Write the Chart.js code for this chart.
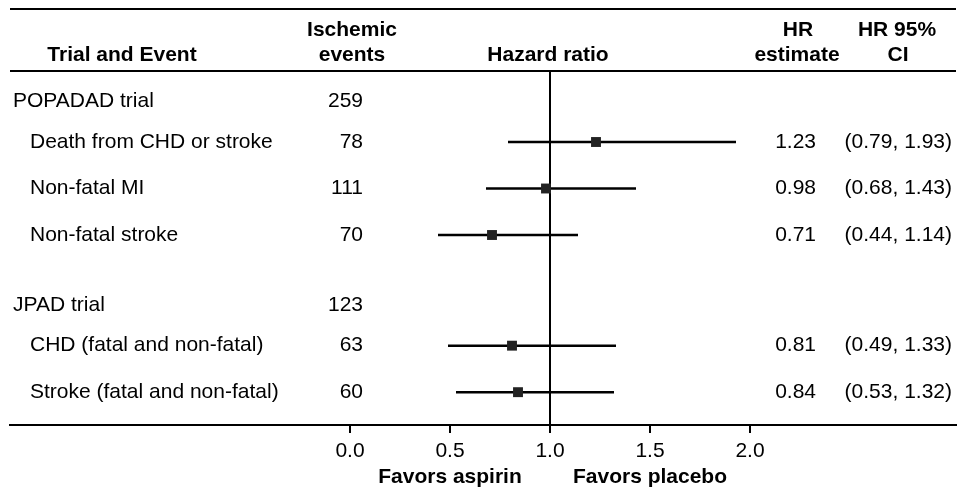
<!DOCTYPE html>
<html>
<head>
<meta charset="utf-8">
<script src="https://cdn.jsdelivr.net/npm/chart.js@4"></script>
<style>
  body { margin: 0; background: #fff; }
  #wrap { width: 958px; height: 492px; }
</style>
</head>
<body>
<div id="wrap"><canvas id="forest"></canvas></div>
<script>
const groupNames = ["POPADAD trial", "JPAD trial"];
const groupEvents = [259, 123];

const outcomes = [
  "Death from CHD or stroke",
  "Non-fatal MI",
  "Non-fatal stroke",
  "CHD (fatal and non-fatal)",
  "Stroke (fatal and non-fatal)"
];
const outcomeGroup = [0, 0, 0, 1, 1];
const outcomeEvents = [78, 111, 70, 63, 60];
const hr = [1.23, 0.98, 0.71, 0.81, 0.84];
const ciLow = [0.79, 0.68, 0.44, 0.49, 0.53];
const ciHigh = [1.93, 1.43, 1.14, 1.33, 1.32];

const xTicks = [0, 0.5, 1, 1.5, 2];

// row layout: one unit per outcome row, group title sits a bit less than a row above
const rowY = [];
const groupY = [];
let base = 1;
groupNames.forEach((g, gi) => {
  groupY.push(base - 0.87);
  let y = base;
  outcomes.forEach((o, i) => {
    if (outcomeGroup[i] === gi) { rowY[i] = y; y += 1; }
  });
  base = y - 1 + 2.38;
});

const FONT = "'Liberation Sans', Arial, Helvetica, sans-serif";

const ciSets = outcomes.map((o, i) => ({
  type: "line",
  data: [{ x: ciLow[i], y: rowY[i] }, { x: ciHigh[i], y: rowY[i] }],
  borderColor: "#000",
  borderWidth: 2.5,
  pointRadius: 0,
  order: 2
}));

const tablePlugin = {
  id: "tableText",
  beforeDatasetsDraw(chart) {
    const { ctx, chartArea, scales } = chart;
    const x1 = scales.x.getPixelForValue(1);
    ctx.save();
    ctx.strokeStyle = "#000";
    ctx.lineWidth = 2;
    ctx.beginPath();
    ctx.moveTo(x1, chartArea.top);
    ctx.lineTo(x1, chartArea.bottom);
    ctx.stroke();
    ctx.restore();
  },
  afterDraw(chart) {
    const { ctx, chartArea, scales } = chart;
    const ys = scales.y;
    ctx.save();
    ctx.strokeStyle = "#000";
    ctx.lineWidth = 2;
    [9, chartArea.top].forEach(y => {
      ctx.beginPath();
      ctx.moveTo(chartArea.left, y);
      ctx.lineTo(chartArea.right, y);
      ctx.stroke();
    });

    ctx.fillStyle = "#000";
    ctx.textBaseline = "middle";

    // headers
    ctx.font = "bold 21px " + FONT;
    ctx.textAlign = "center";
    ctx.fillText("Trial and Event", 122, 55);
    ctx.fillText("Ischemic", 352, 30);
    ctx.fillText("events", 352, 55);
    ctx.fillText("Hazard ratio", 548, 55);
    ctx.fillText("HR", 798, 30);
    ctx.fillText("estimate", 797, 55);
    ctx.fillText("HR 95%", 897, 30);
    ctx.fillText("CI", 898, 55);

    // axis captions
    ctx.fillText("Favors aspirin", scales.x.getPixelForValue(0.5), 477);
    ctx.fillText("Favors placebo", scales.x.getPixelForValue(1.5), 477);

    // body
    ctx.font = "21px " + FONT;
    groupNames.forEach((g, gi) => {
      const y = ys.getPixelForValue(groupY[gi]);
      ctx.textAlign = "left";
      ctx.fillText(g, 13, y);
      ctx.textAlign = "right";
      ctx.fillText(String(groupEvents[gi]), 363, y);
    });
    outcomes.forEach((o, i) => {
      const y = ys.getPixelForValue(rowY[i]);
      ctx.textAlign = "left";
      ctx.fillText(o, 30, y);
      ctx.textAlign = "right";
      ctx.fillText(String(outcomeEvents[i]), 363, y);
      ctx.fillText(hr[i].toFixed(2), 816, y);
      ctx.fillText("(" + ciLow[i].toFixed(2) + ", " + ciHigh[i].toFixed(2) + ")", 952, y);
    });
    ctx.restore();
  }
};

new Chart(document.getElementById("forest"), {
  type: "scatter",
  data: {
    datasets: [
      {
        data: hr.map((v, i) => ({ x: v, y: rowY[i] })),
        pointStyle: "rect",
        pointRadius: 7,
        backgroundColor: "#222",
        borderWidth: 0,
        order: 1
      },
      ...ciSets
    ]
  },
  options: {
    responsive: true,
    maintainAspectRatio: false,
    animation: false,
    events: [],
    layout: { autoPadding: false, padding: { left: 10, right: 2, top: 71, bottom: 0 } },
    plugins: { legend: { display: false }, tooltip: { enabled: false } },
    scales: {
      x: {
        type: "linear",
        min: -1.7,
        max: 3.03,
        afterBuildTicks: s => { s.ticks = xTicks.map(v => ({ value: v })); },
        afterFit: s => {
          s.height = 67;
          s.paddingLeft = 0;
          s.paddingRight = 0;
        },
        border: { display: true, color: "#000", width: 2 },
        grid: { drawOnChartArea: false, color: "#000", lineWidth: 2, tickLength: 8 },
        ticks: {
          color: "#000",
          padding: 6,
          font: { family: FONT, size: 21 },
          callback: v => Number(v).toFixed(1)
        }
      },
      y: {
        type: "linear",
        reverse: true,
        min: -0.527,
        max: 7.086,
        display: false
      }
    }
  },
  plugins: [tablePlugin]
});
</script>
</body>
</html>
